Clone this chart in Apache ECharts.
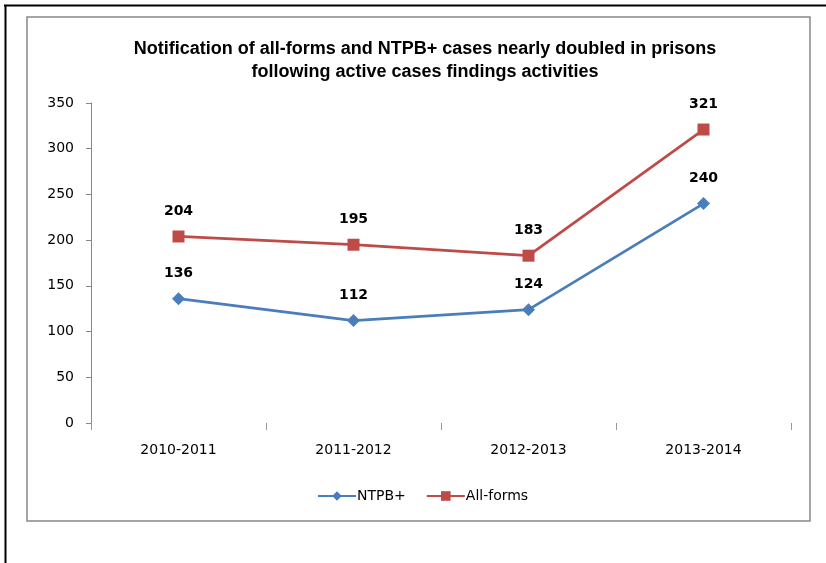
<!DOCTYPE html>
<html><head><meta charset="utf-8">
<script src="https://cdn.jsdelivr.net/npm/echarts@6/dist/echarts.min.js"></script>
<style>html,body{margin:0;padding:0;background:#fff}#c{width:826px;height:563px}</style>
</head><body><div id="c"></div>
<script>
var categories = ['2010-2011', '2011-2012', '2012-2013', '2013-2014'];
var ntpb = [136, 112, 124, 240];
var allForms = [204, 195, 183, 321];
var yTicks = [0, 50, 100, 150, 200, 250, 300, 350];
var titleText = 'Notification of all-forms and NTPB+ cases nearly doubled in prisons\nfollowing active cases findings activities';

var chart = echarts.init(document.getElementById('c'), null, {renderer: 'canvas'});
var labelStyle = {show: true, position: 'top', distance: 12, color: '#000', fontWeight: 'bold', fontSize: 14, fontFamily: 'DejaVu Sans'};
chart.setOption({
  animation: false,
  backgroundColor: '#fff',
  title: {
    text: titleText, left: 420, top: 33, textAlign: 'center',
    textStyle: {fontFamily: 'Liberation Sans', fontWeight: 'bold', fontSize: 18, lineHeight: 23, color: '#000'}
  },
  legend: {
    data: ['NTPB+', 'All-forms'], left: 312, top: 484, itemGap: 20,
    itemWidth: 38, itemHeight: 12,
    textStyle: {fontFamily: 'DejaVu Sans', fontSize: 14, color: '#000', padding: [0,0,0,-4]}
  },
  grid: {left: 91, right: 35, top: 103, bottom: 140, containLabel: false},
  xAxis: {
    type: 'category', data: categories, boundaryGap: true,
    axisLine: {show: false},
    axisTick: {show: true, length: 7, lineStyle: {color: '#999'}},
    axisLabel: {margin: 20, color: '#000', fontFamily: 'DejaVu Sans', fontSize: 14}
  },
  yAxis: {
    type: 'value', min: yTicks[0], max: yTicks[yTicks.length - 1], interval: 50,
    axisLine: {show: true, lineStyle: {color: '#888', width: 1}},
    axisTick: {show: true, length: 5, lineStyle: {color: '#888'}},
    splitLine: {show: false},
    axisLabel: {margin: 17, color: '#000', fontFamily: 'DejaVu Sans', fontSize: 14}
  },
  series: [
    {name: 'NTPB+', type: 'line', data: ntpb, symbol: 'diamond', symbolSize: 13,
     lineStyle: {color: '#4A7EBB', width: 2.75}, itemStyle: {color: '#4A7EBB'}, label: labelStyle},
    {name: 'All-forms', type: 'line', data: allForms, symbol: 'rect', symbolSize: 12,
     lineStyle: {color: '#BE4B48', width: 2.75}, itemStyle: {color: '#BE4B48'}, label: labelStyle}
  ],
  graphic: [
    {type: 'line', shape: {x1: 4, y1: 5.5, x2: 826, y2: 5.5}, style: {stroke: '#000', lineWidth: 2}},
    {type: 'line', shape: {x1: 5.5, y1: 5, x2: 5.5, y2: 563}, style: {stroke: '#000', lineWidth: 2}},
    {type: 'rect', shape: {x: 27, y: 17, width: 783, height: 504}, style: {fill: null, stroke: '#888', lineWidth: 1.5}, z: -1}
  ]
});
</script></body></html>
